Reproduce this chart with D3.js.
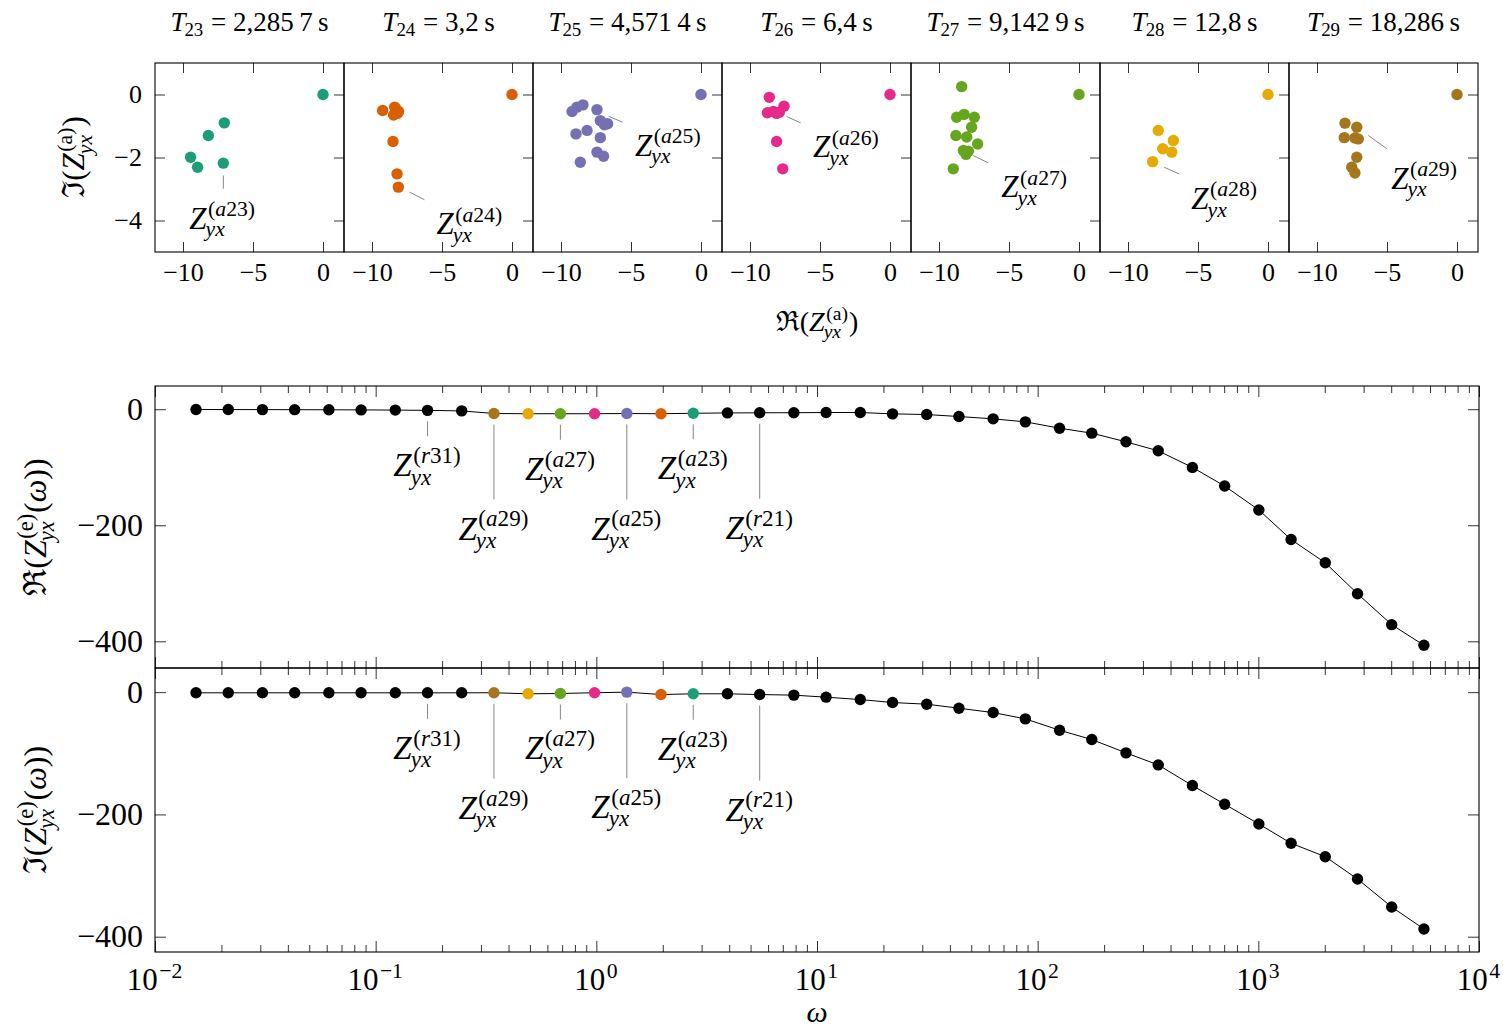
<!DOCTYPE html>
<html>
<head>
<meta charset="utf-8">
<script src="https://cdn.jsdelivr.net/npm/d3@7"></script>
<style>
  body { margin: 0; background: #fff; }
  svg text { white-space: pre; }
</style>
</head>
<body>
<svg id="chart" width="1503" height="1027"></svg>
<script>
// periods of the seven "a" measurements shown in the small panels
const periodIds = [23, 24, 25, 26, 27, 28, 29];
const periodLabels = ["2,285\u20097", "3,2", "4,571\u20094", "6,4", "9,142\u20099", "12,8", "18,286"];

// [Re, Im] of Z_yx^(a) per period
const za23 = [[0, 0], [-7.05, -0.9], [-8.19, -1.3], [-9.46, -1.99], [-8.96, -2.31], [-7.12, -2.18]];
const za24 = [[0, 0], [-9.24, -0.51], [-8.38, -0.4], [-8.1, -0.54], [-8.46, -0.65], [-8.3, -0.45], [-8.2, -0.6], [-8.5, -1.49], [-8.21, -2.52], [-8.12, -2.94]];
const za25 = [[0, 0], [-9.21, -0.54], [-8.86, -0.4], [-8.43, -0.33], [-7.43, -0.48], [-7.19, -0.83], [-6.67, -0.93], [-6.9, -0.96], [-8.14, -1.14], [-8.93, -1.25], [-7.19, -1.37], [-7.43, -1.83], [-6.96, -1.96], [-8.62, -2.15]];
const za26 = [[0, 0], [-8.62, -0.09], [-8.76, -0.58], [-8.33, -0.54], [-7.9, -0.56], [-7.57, -0.37], [-8.1, -0.6], [-8.1, -1.49], [-7.66, -2.36]];
const za27 = [[0, 0], [-8.38, 0.25], [-8.74, -0.72], [-8.21, -0.63], [-7.48, -0.72], [-7.67, -1.04], [-8.79, -1.3], [-8.02, -1.35], [-7.24, -1.57], [-8.26, -1.78], [-7.9, -1.8], [-8.07, -1.9], [-8.98, -2.36]];
const za28 = [[0, 0], [-7.84, -1.14], [-6.76, -1.46], [-7.52, -1.72], [-6.88, -1.83], [-8.24, -2.13]];
const za29 = [[0, 0], [-8.0, -0.91], [-7.16, -1.04], [-8.05, -1.37], [-7.05, -1.41], [-7.3, -1.38], [-7.16, -1.99], [-7.52, -2.31], [-7.29, -2.49]];
const panelPoints = [za23, za24, za25, za26, za27, za28, za29];

// label pins and label anchors in the small panels (data units)
const panelPins = [[-7.12, -2.57, -7.12, -2.99], [-7.31, -3.1, -6.26, -3.34], [-6.6, -0.69, -5.6, -0.88], [-7.38, -0.7, -6.38, -0.9], [-7.55, -1.94, -6.48, -2.17], [-7.41, -2.31, -6.36, -2.52], [-6.34, -1.3, -5.02, -1.72]];
const panelLabelPos = [[-9.55, -4.26], [-5.4, -4.43], [-4.72, -1.94], [-5.5, -1.99], [-5.55, -3.26], [-5.48, -3.63], [-4.7, -2.99]];

const topXTicks = [-10, -5, 0];
const topYTicks = [0, -2, -4];

// frequency response Z_yx^(e)(omega)
const omega = [0.01534, 0.021476, 0.03068, 0.042951, 0.061359, 0.085903, 0.122718, 0.171806, 0.245437, 0.343612,
  0.490874, 0.687223, 0.98175, 1.37445, 1.9635, 2.7489, 3.927, 5.498, 7.854, 10.996,
  15.708, 21.99, 31.416, 43.98, 62.83, 87.96, 125.66, 175.93, 251.33, 351.86,
  502.65, 703.72, 1005.31, 1407.43, 2010.62, 2814.87, 4021.24, 5629.7];
const reZ = [-0.5, -0.6, -0.7, -0.8, -1.0, -1.2, -1.5, -2.0, -2.9, -7.4,
  -7.8, -7.8, -7.8, -7.4, -7.8, -7.0, -6.4, -6.2, -6.0, -5.7,
  -5.7, -8.0, -9.2, -12.6, -16.6, -21.8, -32.7, -41.3, -56.2, -71.7,
  -100.3, -132.4, -173.7, -224.6, -264.7, -318, -371.3, -406.9];
const imZ = [-1.1, -1.1, -1.1, -1.1, -1.1, -1.1, -1.1, -1.1, -1.1, -1.0,
  -2.7, -2.2, -1.0, 0, -3.9, -2.7, -2.7, -3.9, -4.9, -8.2,
  -12.1, -17.0, -19.7, -26.3, -33.4, -43.7, -62.3, -77.5, -99.3, -119,
  -152.8, -183.3, -215.6, -247.2, -269.1, -305.6, -351.4, -387.4];
// omega index of the a23..a29 points (same order as periodIds)
const aPointIdx = [15, 14, 13, 12, 11, 10, 9];
const bigYTicks = [0, -200, -400];

const pinLabels = [
    { sup: [["(", 0], ["r", 1], ["31)", 0]], idx: 7, long: false },
    { sup: [["(", 0], ["a", 1], ["29)", 0]], idx: 9, long: true },
    { sup: [["(", 0], ["a", 1], ["27)", 0]], idx: 11, long: false },
    { sup: [["(", 0], ["a", 1], ["25)", 0]], idx: 13, long: true },
    { sup: [["(", 0], ["a", 1], ["23)", 0]], idx: 15, long: false },
    { sup: [["(", 0], ["r", 1], ["21)", 0]], idx: 17, long: true }
];

const FONT = "'Liberation Serif'";
const colors = d3.schemeDark2;
const svg = d3.select("#chart");

// small math typesetter: items are runs [[text, italic], ...] or {sup, sub}
function drawMath(parent, x, y, items, size, anchor) {
    const g = parent.append("g");
    const small = size * 0.7;
    let cx = 0;
    function run(segs, px, py, fs) {
        const t = g.append("text")
            .attr("x", px).attr("y", py)
            .attr("font-family", FONT)
            .attr("font-size", fs);
        segs.forEach(s => t.append("tspan").text(s[0]).attr("font-style", s[1] ? "italic" : "normal"));
        return t.node().getComputedTextLength();
    }
    items.forEach(it => {
        if (Array.isArray(it)) {
            cx += run(it, cx, 0, size);
        } else {
            const w1 = it.sup ? run(it.sup, cx + 1.5, -0.4 * size, small) + 1.5 : 0;
            const drop = it.sup ? 0.25 : 0.18;
            const w2 = it.sub ? run(it.sub, cx - 1, drop * size, small) - 1 : 0;
            cx += Math.max(w1, w2) + 1;
        }
    });
    const shift = anchor === "middle" ? -cx / 2 : 0;
    g.attr("transform", `translate(${x + shift},${y})`);
    return g;
}

function zItems(sup) {
    return [[["Z", 1]], { sup: sup, sub: [["yx", 1]] }];
}

function styleAxis(g, fs) {
    g.attr("font-family", FONT).attr("font-size", fs);
    g.select(".domain").remove();
    g.selectAll("line").attr("stroke", "#000").attr("stroke-width", 0.8);
    g.selectAll("text").attr("fill", "#000");
}

function createTopPanels() {
    const panelW = 189, left0 = 155, top = 63, bottom = 252;
    const y = d3.scaleLinear().domain([-5, 1]).range([bottom, top]);
    const fmt = d3.format("d");

    periodIds.forEach((id, p) => {
        const x0 = left0 + p * panelW;
        const x = d3.scaleLinear().domain([-12, 1.5]).range([x0, x0 + panelW]);
        const g = svg.append("g");

        g.append("g")
            .attr("transform", `translate(0,${bottom})`)
            .call(d3.axisBottom(x).tickValues(topXTicks).tickSizeInner(-10).tickSizeOuter(0).tickPadding(11).tickFormat(fmt))
            .call(a => styleAxis(a, 26));
        g.append("g")
            .attr("transform", `translate(0,${top})`)
            .call(d3.axisTop(x).tickValues(topXTicks).tickSizeInner(-10).tickSizeOuter(0).tickFormat(""))
            .call(a => styleAxis(a, 26));
        g.append("g")
            .attr("transform", `translate(${x0 + panelW},0)`)
            .call(d3.axisRight(y).tickValues(topYTicks).tickSizeInner(-10).tickSizeOuter(0).tickFormat(""))
            .call(a => styleAxis(a, 26));
        if (p === 0) {
            g.append("g")
                .attr("transform", `translate(${x0},0)`)
                .call(d3.axisLeft(y).tickValues(topYTicks).tickSizeInner(-10).tickSizeOuter(0).tickPadding(13).tickFormat(fmt))
                .call(a => styleAxis(a, 26));
        }

        g.append("rect")
            .attr("x", x0).attr("y", top)
            .attr("width", panelW).attr("height", bottom - top)
            .attr("fill", "none").attr("stroke", "#000").attr("stroke-width", 1.1);

        const pin = panelPins[p];
        g.append("line")
            .attr("x1", x(pin[0])).attr("y1", y(pin[1]))
            .attr("x2", x(pin[2])).attr("y2", y(pin[3]))
            .attr("stroke", "#777").attr("stroke-width", 0.9);

        g.selectAll("circle")
            .data(panelPoints[p])
            .enter()
            .append("circle")
            .attr("cx", d => x(d[0]))
            .attr("cy", d => y(d[1]))
            .attr("r", 5.7)
            .attr("fill", colors[p]);

        drawMath(g, x(panelLabelPos[p][0]), y(panelLabelPos[p][1]),
            zItems([["(", 0], ["a", 1], [id + ")", 0]]), 31, "start");

        drawMath(svg, x0 + panelW / 2, 31,
            [[["T", 1]], { sub: [[String(id), 0]] }, [["\u00A0=\u00A0" + periodLabels[p] + "\u2009s", 0]]], 27, "middle");
    });

    drawMath(svg, 817, 331,
        [[["\u211C(", 0]]].concat(zItems([["(a)", 0]]), [[[")", 0]]]), 28, "middle");
    const yl = svg.append("g").attr("transform", "translate(84,157) rotate(-90)");
    drawMath(yl, 0, 0,
        [[["\u2111(", 0]]].concat(zItems([["(a)", 0]]), [[[")", 0]]]), 31, "middle");
}

function createSeriesPlot(values, top, bottom, yDomain, prefix, showX) {
    const left = 155, right = 1479;
    const x = d3.scaleLog().domain([1e-2, 1e4]).range([left, right]);
    const y = d3.scaleLinear().domain(yDomain).range([bottom, top]);
    const g = svg.append("g");

    const allTicks = x.ticks();
    const major = allTicks.filter(v => Math.abs(Math.log10(v) - Math.round(Math.log10(v))) < 1e-9);
    const minor = allTicks.filter(v => major.indexOf(v) < 0);

    [[d3.axisBottom, bottom], [d3.axisTop, top]].forEach(([ax, pos]) => {
        g.append("g").attr("transform", `translate(0,${pos})`)
            .call(ax(x).tickValues(major).tickSizeInner(-11).tickSizeOuter(0).tickFormat(""))
            .call(a => styleAxis(a, 30));
        g.append("g").attr("transform", `translate(0,${pos})`)
            .call(ax(x).tickValues(minor).tickSizeInner(-7).tickSizeOuter(0).tickFormat(""))
            .call(a => styleAxis(a, 30));
    });
    g.append("g").attr("transform", `translate(${left},0)`)
        .call(d3.axisLeft(y).tickValues(bigYTicks).tickSizeInner(-11).tickSizeOuter(0).tickPadding(12).tickFormat(d3.format("d")))
        .call(a => styleAxis(a, 32));
    g.append("g").attr("transform", `translate(${right},0)`)
        .call(d3.axisRight(y).tickValues(bigYTicks).tickSizeInner(-11).tickSizeOuter(0).tickFormat(""))
        .call(a => styleAxis(a, 32));

    g.append("rect")
        .attr("x", left).attr("y", top)
        .attr("width", right - left).attr("height", bottom - top)
        .attr("fill", "none").attr("stroke", "#000").attr("stroke-width", 1.1);

    const line = d3.line()
        .x((d, i) => x(omega[i]))
        .y(d => y(d));
    g.append("path")
        .datum(values)
        .attr("fill", "none")
        .attr("stroke", "#000")
        .attr("stroke-width", 1)
        .attr("d", line);

    g.selectAll("circle")
        .data(values)
        .enter()
        .append("circle")
        .attr("cx", (d, i) => x(omega[i]))
        .attr("cy", d => y(d))
        .attr("r", 5.7)
        .attr("fill", (d, i) => {
            const k = aPointIdx.indexOf(i);
            return k < 0 ? "#000" : colors[k];
        });

    pinLabels.forEach(p => {
        const px = x(omega[p.idx]);
        const py = y(values[p.idx]);
        const end = py + (p.long ? 86 : 26);
        g.append("line")
            .attr("x1", px).attr("y1", py + 11)
            .attr("x2", px).attr("y2", end)
            .attr("stroke", "#777").attr("stroke-width", 0.9);
        drawMath(g, px, end + 40, zItems(p.sup), 33, "middle");
    });

    if (showX) {
        major.forEach(v => {
            const e = Math.round(Math.log10(v));
            drawMath(g, x(v), 990, [[["10", 0]], { sup: [[(e < 0 ? "\u2212" : "") + Math.abs(e), 0]] }], 31, "middle");
        });
        drawMath(g, 817, 1022, [[["\u03C9", 1]]], 30, "middle");
    }

    const yl = svg.append("g").attr("transform", `translate(46,${(top + bottom) / 2}) rotate(-90)`);
    drawMath(yl, 0, 0,
        [[[prefix + "(", 0]]].concat(zItems([["(e)", 0]]), [[["(", 0], ["\u03C9", 1], ["))", 0]]]), 32, "middle");
}

createTopPanels();
createSeriesPlot(reZ, 386, 668, [-446, 40], "\u211C", false);
createSeriesPlot(imZ, 668, 952, [-425, 39.5], "\u2111", true);
</script>
</body>
</html>
